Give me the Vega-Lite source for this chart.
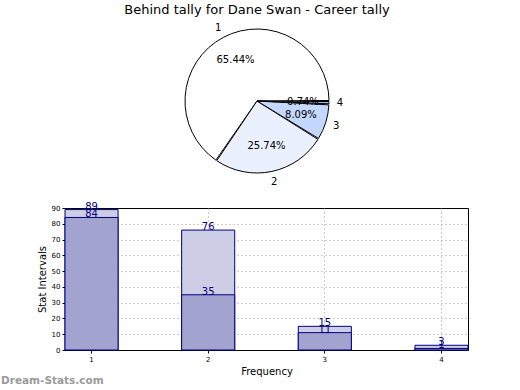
{
  "$schema": "https://vega.github.io/schema/vega-lite/v6.json",
  "padding": {"left": 0, "top": 3, "right": 5, "bottom": 2},
  "background": "white",
  "spacing": 13,
  "config": {"view": {"stroke": null}, "font": "DejaVu Sans"},
  "vconcat": [
    {
      "width": 384,
      "height": 150,
      "title": {"text": "Behind tally for Dane Swan - Career tally", "fontSize": 13, "fontWeight": "normal", "font": "DejaVu Sans", "anchor": "middle", "frame": "group", "offset": 6, "color": "black"},
      "data": {"values": [
        {"cat": "1", "value": 89, "pct": "65.44%"},
        {"cat": "2", "value": 35, "pct": "25.74%"},
        {"cat": "3", "value": 11, "pct": "8.09%"},
        {"cat": "4", "value": 1, "pct": "0.74%"}
      ]},
      "encoding": {
        "theta": {"field": "value", "type": "quantitative", "stack": true, "scale": {"range": [1.5708, 7.8540]}},
        "order": {"field": "cat", "sort": "descending"}
      },
      "layer": [
        {
          "mark": {"type": "arc", "outerRadius": 72, "stroke": "black", "strokeWidth": 1, "padAngle": 0.015},
          "encoding": {"color": {"field": "cat", "type": "nominal", "scale": {"domain": ["1", "2", "3", "4"], "range": ["#ffffff", "#eaf0fe", "#c4d7fd", "#9fb6ee"]}, "legend": null}}
        },
        {
          "mark": {"type": "text", "radius": 46, "fontSize": 10, "color": "black"},
          "encoding": {"text": {"field": "pct"}}
        },
        {
          "mark": {"type": "text", "radius": 83, "fontSize": 10, "color": "black"},
          "encoding": {"text": {"field": "cat"}}
        }
      ]
    },
    {
      "width": 403,
      "height": 142,
      "view": {"stroke": "black", "strokeWidth": 1},
      "title": {"text": "Dream-Stats.com", "orient": "bottom", "anchor": "start", "frame": "group", "dx": -64, "offset": 0, "fontSize": 10.5, "fontWeight": "bold", "color": "#9a9a9a"},
      "data": {"values": [
        {"freq": "1", "kind": "total", "count": 89},
        {"freq": "2", "kind": "total", "count": 76},
        {"freq": "3", "kind": "total", "count": 15},
        {"freq": "4", "kind": "total", "count": 3},
        {"freq": "1", "kind": "part", "count": 84},
        {"freq": "2", "kind": "part", "count": 35},
        {"freq": "3", "kind": "part", "count": 11},
        {"freq": "4", "kind": "part", "count": 1}
      ]},
      "encoding": {
        "x": {"field": "freq", "type": "ordinal", "scale": {"paddingInner": 0.545, "paddingOuter": 0},
          "axis": {"title": "Frequency", "titleFontSize": 10, "titleFontWeight": "normal", "titleColor": "black", "labelFontSize": 7, "labelAngle": 0, "labelColor": "black", "domainColor": "black", "tickColor": "black", "tickSize": 3, "grid": true, "gridDash": [1, 3], "gridColor": "#999999", "bandPosition": 0.5, "titlePadding": 4}},
        "y": {"field": "count", "type": "quantitative", "stack": null, "scale": {"domain": [0, 90], "nice": false},
          "axis": {"title": "Stat Intervals", "titleFontSize": 10, "titleFontWeight": "normal", "titleColor": "black", "labelFontSize": 7, "labelColor": "black", "labelOverlap": false, "values": [0, 10, 20, 30, 40, 50, 60, 70, 80, 90], "domainColor": "black", "tickColor": "black", "tickSize": 3, "grid": true, "gridDash": [1, 3], "gridColor": "#999999", "gridOpacity": {"condition": {"test": "datum.value >= 90", "value": 0}, "value": 1}, "titlePadding": 4}}
      },
      "layer": [
        {
          "mark": {"type": "bar", "stroke": "#000080", "strokeWidth": 1},
          "encoding": {"fill": {"field": "kind", "type": "nominal", "scale": {"domain": ["total", "part"], "range": ["#cdcde5", "#a3a3cf"]}, "legend": null}}
        },
        {
          "mark": {"type": "text", "fontSize": 10, "color": "#000080", "baseline": "alphabetic"},
          "encoding": {"text": {"field": "count"}}
        }
      ]
    }
  ]
}
